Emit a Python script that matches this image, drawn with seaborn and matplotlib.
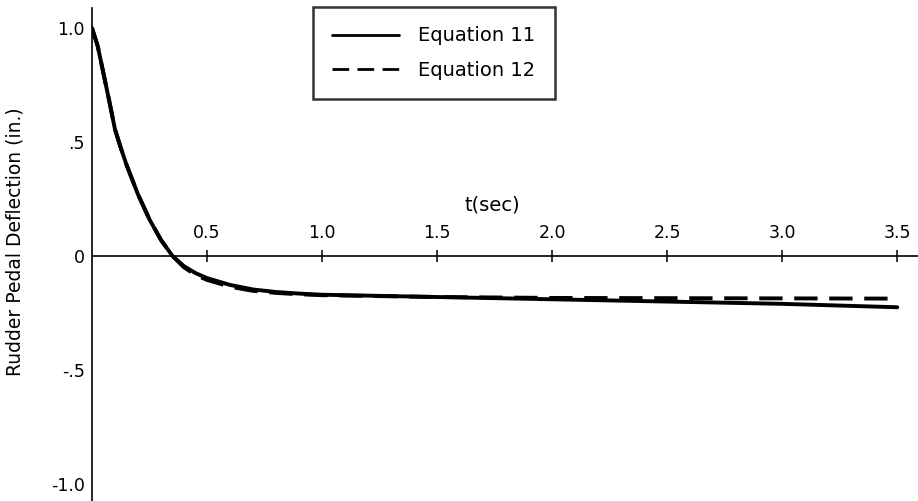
import pandas as pd
import matplotlib.pyplot as plt
import seaborn as sns

# --- Data ---
t_sec = [0.0, 0.025, 0.05, 0.075, 0.10, 0.125, 0.15, 0.20, 0.25, 0.30, 0.35,
         0.40, 0.45, 0.50, 0.60, 0.70, 0.80, 0.90, 1.00, 1.50, 2.00, 2.50,
         3.00, 3.50]
eq11 = [1.00, 0.92, 0.80, 0.68, 0.555, 0.475, 0.40, 0.27, 0.16, 0.07, 0.00,
        -0.045, -0.075, -0.097, -0.127, -0.147, -0.158, -0.165, -0.17, -0.18,
        -0.19, -0.20, -0.21, -0.225]
eq12 = [1.00, 0.92, 0.80, 0.68, 0.555, 0.475, 0.40, 0.27, 0.16, 0.07, 0.00,
        -0.05, -0.083, -0.105, -0.135, -0.153, -0.162, -0.168, -0.172, -0.18,
        -0.184, -0.185, -0.186, -0.187]

x_ticks = [0.5, 1.0, 1.5, 2.0, 2.5, 3.0, 3.5]
x_tick_labels = ['0.5', '1.0', '1.5', '2.0', '2.5', '3.0', '3.5']
y_ticks = [1.0, 0.5, 0.0, -0.5, -1.0]
y_tick_labels = ['1.0', '.5', '0', '-.5', '-1.0']

# --- Styling ---
sns.set_style('white')
plt.rcParams['font.family'] = ['DejaVu Sans']
plt.rcParams['text.color'] = 'black'

df = pd.concat([
    pd.DataFrame({'t': t_sec, 'defl': eq11, 'Equation': 'Equation 11'}),
    pd.DataFrame({'t': t_sec, 'defl': eq12, 'Equation': 'Equation 12'}),
])

fig = plt.figure(figsize=(9.18, 5.01), dpi=100)
ax = fig.add_axes([92 / 918, 0.0, 1 - 92 / 918, 1 - 8 / 501])

sns.lineplot(data=df, x='t', y='defl', style='Equation', ax=ax, color='black',
             lw=2.8, dashes={'Equation 11': '', 'Equation 12': (6, 3)},
             sort=False, estimator=None)

ax.set_xlim(0, 3.59)
ax.set_ylim(-1.075, 1.088)

# x axis drawn through y = 0 with labels above it
ax.spines['bottom'].set_visible(False)
ax.spines['right'].set_visible(False)
ax.spines['top'].set_position(('data', 0))
for side in ['top', 'left']:
    ax.spines[side].set_linewidth(1.2)
    ax.spines[side].set_color('black')
ax.xaxis.set_ticks_position('top')
ax.set_xticks(x_ticks)
ax.set_xticklabels(x_tick_labels)
ax.tick_params(axis='x', direction='inout', length=8, width=1.1, pad=6,
               labelsize=12.5, colors='black')
ax.set_yticks(y_ticks)
ax.set_yticklabels(y_tick_labels)
ax.tick_params(axis='y', direction='in', length=10, width=1.1, pad=5,
               labelsize=12.5, colors='black')
ax.set_xlabel('')
ax.set_ylabel('')

ax.text(1.74, 0.225, 't(sec)', ha='center', va='center', fontsize=14,
        color='black')
fig.text(15 / 918, 1 - 242 / 501, 'Rudder Pedal Deflection (in.)', rotation=90,
         ha='center', va='center', fontsize=13.5, color='black')

leg = ax.legend(loc='upper left', bbox_to_anchor=(313 / 918, 1 - 7 / 501),
                bbox_transform=fig.transFigure, borderaxespad=0, fontsize=14,
                handlelength=3.4, frameon=True, fancybox=False,
                borderpad=1.0, labelspacing=0.8, handletextpad=1.0)
leg.get_frame().set_edgecolor('black')
leg.get_frame().set_linewidth(1.8)
for txt in leg.get_texts():
    txt.set_color('black')
for h in leg.get_lines():
    h.set_linewidth(2.0)

plt.savefig('out.png', dpi=100)
